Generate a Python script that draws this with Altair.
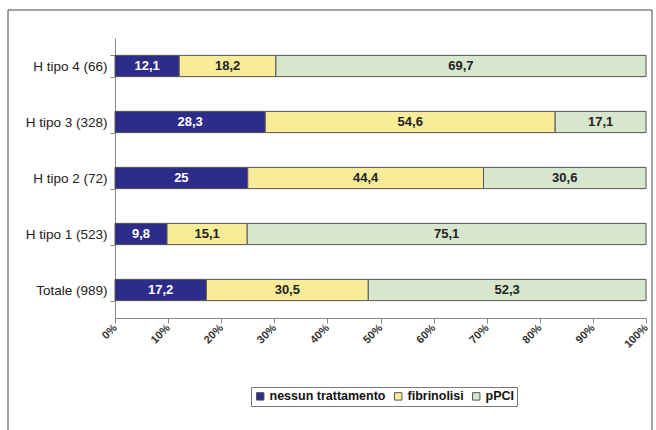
import altair as alt
import pandas as pd

categories = ["H tipo 4 (66)", "H tipo 3 (328)", "H tipo 2 (72)", "H tipo 1 (523)", "Totale (989)"]
series = ["nessun trattamento", "fibrinolisi", "pPCI"]
nessun = [12.1, 28.3, 25, 9.8, 17.2]
fibrinolisi = [18.2, 54.6, 44.4, 15.1, 30.5]
ppci = [69.7, 17.1, 30.6, 75.1, 52.3]
colors = ["#2E2C8A", "#F8EC98", "#D7E7CE"]
x_ticks = [0, 10, 20, 30, 40, 50, 60, 70, 80, 90, 100]

rows = []
for vals, s, o in [(nessun, series[0], 0), (fibrinolisi, series[1], 1), (ppci, series[2], 2)]:
    for c, v in zip(categories, vals):
        rows.append({"cat": c, "serie": s, "val": v, "ord": o})
df = pd.DataFrame(rows)

base = alt.Chart(df).transform_stack(
    stack="val", groupby=["cat"], as_=["x0", "x1"], sort=[alt.SortField("ord")]
).transform_calculate(
    mid="(datum.x0 + datum.x1) / 2",
    lab="replace(toString(datum.val), '.', ',')"
)

yenc = alt.Y("cat:N", sort=categories, title=None,
             scale=alt.Scale(paddingInner=0.62, paddingOuter=0.31),
             axis=alt.Axis(tickBand="extent", labelFont="Liberation Sans", labelFontSize=13.5,
                           labelColor="#222", domainColor="#888", tickColor="#888",
                           tickSize=5, labelPadding=3, grid=False))

bars = base.mark_bar(stroke="#555", strokeWidth=1).encode(
    x=alt.X("x0:Q", scale=alt.Scale(domain=[0, 100], nice=False), title=None,
            axis=alt.Axis(values=x_ticks, labelExpr="datum.value + '%'", labelAngle=-45,
                          labelAlign="right", labelBaseline="middle", labelFont="Liberation Sans",
                          labelFontSize=11, labelFontWeight="bold", labelColor="#333",
                          domainColor="#888", tickColor="#888", tickSize=5, labelPadding=3,
                          grid=False)),
    x2="x1:Q",
    y=yenc,
    color=alt.Color("serie:N", scale=alt.Scale(domain=series, range=colors), sort=series,
                    title=None,
                    legend=alt.Legend(orient="none", legendX=136, legendY=349, direction="horizontal",
                                      symbolType="square", symbolSize=55, symbolStrokeColor="#555",
                                      symbolStrokeWidth=1, labelFont="Liberation Sans", labelFontSize=12.5,
                                      labelFontWeight="bold", labelColor="#111", columnPadding=6,
                                      symbolOffset=0, labelOffset=3, padding=3,
                                      strokeColor="#777", fillColor="white")),
)

text = base.mark_text(font="Liberation Sans", fontSize=13, fontWeight="bold").encode(
    x="mid:Q",
    y=alt.Y("cat:N", sort=categories),
    text="lab:N",
    color=alt.condition(alt.datum.serie == "nessun trattamento", alt.value("white"), alt.value("#222")),
)

frame = alt.Chart(pd.DataFrame({"a": [0]})).mark_rect(fill=None, stroke="#444", strokeWidth=1).encode(
    x=alt.value(-107), x2=alt.value(537), y=alt.value(-28), y2=alt.value(400)
)

chart = alt.layer(frame, bars, text).properties(
    width=531, height=280,
    padding={"left": 115, "top": 38, "right": 10, "bottom": 112},
    autosize=alt.AutoSizeParams(type="none"),
    background="white",
).configure_view(stroke=None)

chart.save("out.html", embed_options={"renderer": "svg", "actions": False})
